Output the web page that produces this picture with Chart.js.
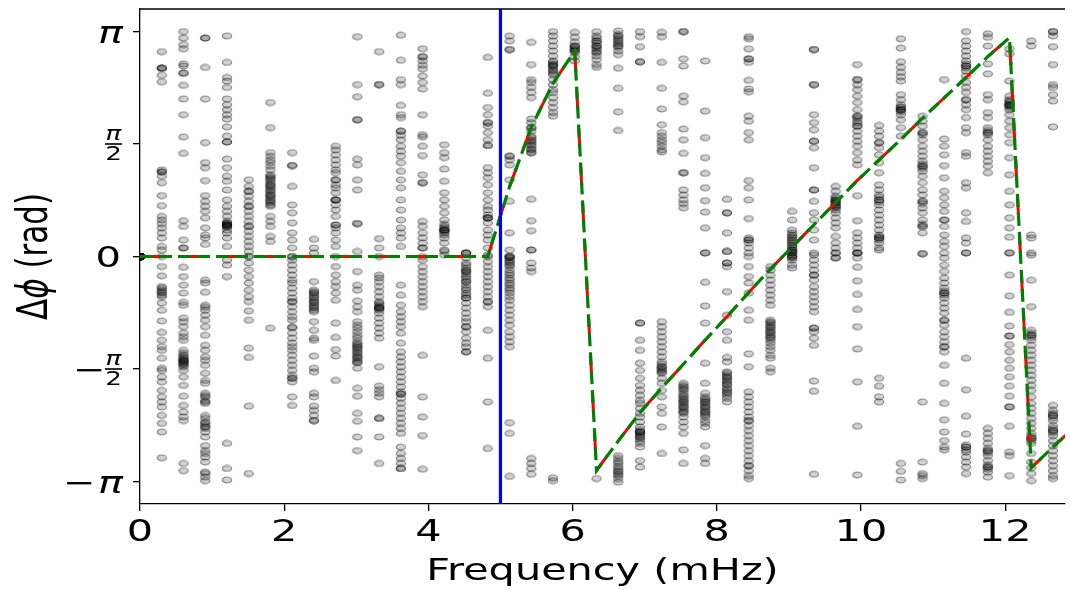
<!DOCTYPE html>
<html>
<head>
<meta charset="utf-8">
<script src="https://cdn.jsdelivr.net/npm/chart.js@4.4.1/dist/chart.umd.min.js"></script>
<style>
  html, body { margin: 0; padding: 0; background: #fff; }
  #wrap { width: 1070px; height: 590px; }
</style>
</head>
<body>
<div id="wrap"><canvas id="graph" width="1070" height="590"></canvas></div>
<script>
// column frequencies (mHz)
const freqs = [0, 0.302, 0.603, 0.905, 1.206, 1.508, 1.809, 2.111, 2.412, 2.714, 3.015,
  3.317, 3.618, 3.920, 4.221, 4.523, 4.824, 5.126, 5.427, 5.729, 6.030,
  6.332, 6.633, 6.935, 7.236, 7.538, 7.839, 8.141, 8.442, 8.744, 9.045,
  9.347, 9.648, 9.950, 10.251, 10.553, 10.854, 11.156, 11.457, 11.759, 12.060,
  12.362, 12.663, 12.965];

// fitted phase (rad), one value per frequency above
const fitPhase = [0, 0, 0, 0, 0, 0, 0, 0, 0, 0, 0,
  0, 0, 0, 0, 0, 0, 0.976, 1.803, 2.419, 2.871,
  -2.987, -2.576, -2.179, -1.835, -1.503, -1.167, -0.840, -0.504, -0.176, 0.133,
  0.443, 0.752, 1.062, 1.347, 1.636, 1.931, 2.217, 2.499, 2.791, 3.056,
  -2.95, -2.66, -2.38];

const markerFreq = 5.0;

// measured phase differences, one list per frequency column
const p00 = [0, 0, 0, 0, 0, 0, 0, 0, 0, 0, 0, 0, 0, 0, 0];
const p01 = [2.86, 2.63, 2.63, 2.63, 2.53, 2.44, 1.21, 1.18, 1.18, 1.12, 1.03, 0.85, 0.71, 0.56, 0.51, 0.46, 0.40, 0.33, 0.26, 0.14, 0.09, 0,
  -0.14, -0.27, -0.42, -0.44, -0.47, -0.49, -0.51, -0.54, -0.56, -0.65, -0.75, -0.90, -1.06, -1.17, -1.26, -1.31, -1.42, -1.56, -1.59,
  -1.68, -1.75, -1.87, -1.96, -2.03, -2.10, -2.22, -2.33, -2.45, -2.81];
const p02 = [3.14, 3.05, 2.96, 2.90, 2.69, 2.66, 2.56, 2.56, 2.39, 2.20, 1.98, 1.67, 1.44, 0.50, 0.42, 0.23, 0.12, 0.12,
  -0.15, -0.28, -0.40, -0.51, -0.64, -0.68, -0.86, -0.91, -0.98, -1.07, -1.12, -1.17, -1.31, -1.35, -1.40, -1.42, -1.45, -1.47,
  -1.49, -1.52, -1.54, -1.59, -1.38, -1.44, -1.50, -1.46, -1.68, -1.80, -1.95, -2.08, -2.17, -2.24, -2.29, -2.89, -2.99];
const p03 = [3.05, 3.05, 2.64, 2.20, 1.59, 1.31, 1.24, 1.06, 0.85, 0.77, 0.70, 0.63, 0.54, 0.40, 0.30, 0.26, 0.17,
  -0.33, -0.37, -0.50, -0.68, -0.71, -0.75, -0.82, -0.89, -0.98, -1.10, -1.24, -1.31, -1.40, -1.45, -1.52, -1.63, -1.73, -1.77,
  -1.91, -1.94, -1.96, -2.01, -2.03, -2.05, -2.22, -2.26, -2.31, -2.33, -2.36, -2.38, -2.40, -2.45, -2.52, -2.64, -2.71, -2.75,
  -2.80, -2.87, -3.01, -3.03, -3.08, -3.13];
const p04 = [3.08, 2.71, 2.50, 2.45, 2.36, 2.20, 2.12, 2.05, 1.98, 1.92, 1.81, 1.68, 1.60, 1.60, 1.36, 1.24, 1.12, 1.05, 0.93,
  0.79, 0.70, 0.63, 0.56, 0.49, 0.47, 0.46, 0.45, 0.44, 0.44, 0.43, 0.42, 0.41, 0.37, 0.33, 0.26, 0.14,
  -0.05, -0.12, -0.28, -2.61, -2.96, -3.12];
const p05 = [1.07, 0.98, 0.91, 0.91, 0.84, 0.77, 0.70, 0.70, 0.63, 0.56, 0.49, 0.42, 0.42, 0.35, 0.28, 0.21, 0.14, 0.07, 0, 0,
  -0.09, -0.19, -0.28, -0.37, -0.47, -0.56, -0.63, -0.76, -0.89, -1.28, -1.41, -2.09, -3.03];
const p06 = [2.15, 1.80, 1.45, 1.40, 1.35, 1.31, 1.26, 1.21, 1.14, 1.12, 1.10, 1.08, 1.05, 1.02, 1.00, 0.98, 0.96, 0.93, 0.91,
  0.88, 0.86, 0.84, 0.82, 0.79, 0.77, 0.75, 0.72, 0.70, 0.56, 0.49, 0.42, 0.28, 0.21, -1.00];
const p07 = [1.45, 1.27, 1.27, 0.98, 0.72, 0.61, 0.47, 0.33, 0.23, 0.12, 0, 0, -0.05, -0.12, -0.19, -0.26, -0.33, -0.37, -0.44,
  -0.51, -0.58, -0.63, -0.63, -0.70, -0.77, -0.84, -0.89, -0.99, -0.99, -1.07, -1.14, -1.21, -1.26, -1.31, -1.38, -1.45, -1.52,
  -1.59, -1.66, -1.70, -1.70, -1.75, -1.96, -2.08];
const p08 = [0.24, 0.12, 0.05, -0.35, -0.47, -0.49, -0.51, -0.53, -0.56, -0.58, -0.61, -0.63, -0.65, -0.68, -0.70, -0.72, -0.75,
  -0.77, -0.91, -1.03, -1.14, -1.17, -1.39, -1.56, -1.61, -1.91, -1.96, -2.09, -2.15, -2.22, -2.29, -2.29];
const p09 = [1.54, 1.49, 1.42, 1.35, 1.28, 1.21, 1.17, 1.07, 1.07, 1.00, 0.96, 0.89, 0.79, 0.79, 0.79, 0.72, 0.65, 0.56, 0.44,
  0.44, 0.40, 0.33, 0.23, 0.14, 0, -0.14, -0.26, -0.35, -0.42, -0.51, -0.61, -0.93, -1.13, -1.30, -1.39, -1.73];
const p10 = [3.07, 2.40, 2.23, 1.91, 1.91, 1.36, 1.28, 1.07, 0.93, 0.46, 0.46, 0.07, -0.21, -0.40, -0.47, -0.62, -0.70, -0.77,
  -0.91, -0.96, -1.00, -1.05, -1.10, -1.14, -1.19, -1.22, -1.24, -1.26, -1.28, -1.30, -1.33, -1.35, -1.38, -1.40, -1.42, -1.45,
  -1.48, -1.48, -1.56, -1.84, -1.95, -2.19, -2.30, -2.52, -2.71];
const p11 = [2.86, 2.40, 2.40, 0.25, 0.12, 0, -0.26, -0.30, -0.35, -0.42, -0.49, -0.56, -0.63, -0.65, -0.68, -0.70, -0.72, -0.72,
  -0.72, -0.75, -0.79, -0.86, -0.93, -1.00, -1.07, -1.14, -1.54, -1.81, -1.86, -1.91, -1.96, -2.26, -2.26, -2.52, -2.89];
const p12 = [3.09, 2.74, 2.47, 2.40, 2.11, 1.98, 1.94, 1.75, 1.75, 1.69, 1.63, 1.54, 1.47, 1.40, 1.31, 1.19, 1.07, 0.96, 0.79,
  0.65, 0.51, 0.40, 0.33, 0.26, 0.14, -0.40, -0.54, -0.68, -0.77, -0.84, -0.91, -0.98, -1.07, -1.21, -1.33, -1.40, -1.47,
  -1.54, -1.61, -1.68, -1.75, -1.82, -1.89, -1.92, -1.92, -1.98, -2.05, -2.12, -2.19, -2.26, -2.33, -2.40, -2.47, -2.66,
  -2.75, -2.82, -2.89, -2.96, -2.96];
const p13 = [2.90, 2.79, 2.79, 2.73, 2.67, 2.62, 2.52, 2.43, 2.34, 1.98, 1.70, 1.67, 1.54, 1.41, 1.14, 1.03, 1.03, 0.49, 0.42,
  0.33, 0.26, 0.19, 0.12, 0.12, 0, -0.05, -0.14, -0.21, -0.28, -0.35, -0.42, -0.49, -0.56, -0.63, -0.70, -1.38, -1.96,
  -2.24, -2.50, -2.97];
const p14 = [1.56, 1.45, 1.38, 1.22, 1.05, 0.89, 0.79, 0.70, 0.61, 0.51, 0.45, 0.42, 0.40, 0.37, 0.37, 0.37, 0.35, 0.33, 0.30,
  0.26, 0.19, 0.09, 0.07, 0.02];
const p15 = [0.05, 0.05, 0.05, -0.02, -0.09, -0.12, -0.16, -0.19, -0.21, -0.21, -0.25, -0.28, -0.31, -0.35, -0.35, -0.40, -0.44,
  -0.47, -0.51, -0.54, -0.58, -0.58, -0.65, -0.72, -0.79, -0.86, -0.91, -0.98, -0.98, -1.05, -1.14, -1.21, -1.26, -1.33, -1.33];
const p16 = [2.78, 2.28, 2.08, 1.98, 1.87, 1.87, 1.82, 1.73, 1.63, 1.55, 1.55, 1.24, 1.17, 1.10, 1.00, 0.89, 0.79, 0.70, 0.65,
  0.58, 0.54, 0.54, 0.54, 0.47, 0.37, 0.30, 0.23, 0.12, 0.02, 0, -0.07, -0.14, -0.21, -0.28, -0.35, -0.42, -0.49, -0.56,
  -0.63, -0.63, -0.70, -1.03, -1.42, -2.03, -2.68];
const p17 = [3.08, 3.01, 2.89, 2.89, 1.40, 1.40, 1.35, 1.28, 1.07, 0.77, 0.33, 0.09, 0, 0, 0, -0.02, -0.05, -0.07, -0.09, -0.12,
  -0.14, -0.19, -0.23, -0.26, -0.30, -0.33, -0.37, -0.40, -0.44, -0.47, -0.51, -0.56, -0.61, -0.68, -0.75, -0.82, -0.89,
  -0.96, -1.05, -1.12, -1.19, -1.26, -2.32, -2.47, -3.07];
const p18 = [2.99, 2.68, 2.47, 2.43, 2.36, 2.29, 2.22, 1.92, 1.87, 1.80, 1.80, 1.75, 1.68, 1.66, 1.63, 1.61, 1.59, 1.56, 1.54,
  1.50, 1.49, 1.45, 1.45, 0.80, 0.50, 0.36, 0.09, 0.09, -0.09, -0.16, -0.21, -2.82, -2.89, -2.96, -3.04];
const p19 = [3.14, 3.08, 3.01, 2.94, 2.87, 2.80, 2.73, 2.71, 2.68, 2.68, 2.66, 2.64, 2.61, 2.59, 2.56, 2.54, 2.47, 2.40, 2.33,
  2.29, 2.22, 2.15, 2.08, 2.01, 1.96, -3.09, -3.13];
const p20 = [3.13, 3.06, 2.99, 2.94, 2.94, 2.92, 2.89, 2.89, 2.87, 2.85, 2.79, 2.73];
const p21 = [3.14, 3.08, 3.05, 3.01, 3.01, 2.98, 2.94, 2.94, 2.91, 2.89, 2.85, 2.85, 2.80, 2.75, 2.68, 2.64, -3.10];
const p22 = [3.15, 3.10, 3.08, 3.06, 3.03, 3.01, 2.98, 2.96, 2.94, 2.92, 2.87, 2.82, 2.63, 2.35, 2.02, 1.76,
  -2.78, -2.82, -2.86, -2.89, -2.93, -2.96, -2.99, -3.01, -3.04, -3.06, -3.10, -3.15];
const p23 = [3.14, 3.07, 2.93, 2.72, 2.72, -0.93, -0.93, -1.17, -1.31, -1.49, -1.59, -1.70, -1.80, -1.87, -1.94, -2.01, -2.05,
  -2.12, -2.19, -2.24, -2.31, -2.38, -2.42, -2.45, -2.45, -2.45, -2.48, -2.50, -2.52, -2.54, -2.57, -2.61, -2.66, -2.85, -2.94];
const p24 = [3.13, 3.07, 2.71, 2.35, 2.06, 1.84, 1.73, 1.68, 1.63, 1.59, 1.54, 1.49, 1.46, -0.91, -0.98, -1.05, -1.12, -1.19,
  -1.26, -1.33, -1.40, -1.47, -1.50, -1.54, -1.54, -1.57, -1.59, -1.61, -1.63, -1.70, -1.77, -1.87, -1.96, -2.10, -2.19,
  -2.38, -2.75];
const p25 = [3.14, 3.14, 2.76, 2.66, 2.24, 2.16, 1.78, 1.63, 1.44, 1.17, 1.17, 0.93, 0.86, 0.79, 0.74, 0.68, -1.77, -1.80,
  -1.82, -1.85, -1.87, -1.91, -1.94, -1.96, -1.99, -2.01, -2.03, -2.05, -2.08, -2.10, -2.12, -2.15, -2.17, -2.19, -2.24,
  -2.31, -2.38, -2.47, -2.70, -2.89];
const p26 = [2.73, 2.03, 1.66, 1.38, 1.16, 0.96, 0.78, 0.62, 0.40, 0.05, 0.05, -0.36, -0.69, -0.93, -1.49, -1.77, -1.91, -1.96,
  -1.99, -2.01, -2.03, -2.05, -2.08, -2.10, -2.12, -2.15, -2.17, -2.19, -2.21, -2.24, -2.29, -2.33, -2.38, -2.64, -2.82, -2.89];
const p27 = [0.80, 0.61, 0.61, 0.33, 0.07, 0.07, -0.09, -0.09, -0.14, -0.49, -0.82, -1.05, -1.17, -1.41, -1.47, -1.61, -1.63,
  -1.66, -1.68, -1.70, -1.73, -1.75, -1.78, -1.80, -1.84, -1.86, -1.89, -1.91, -1.94, -1.98, -2.03];
const p28 = [3.07, 3.04, 2.90, 2.76, 2.76, 2.71, 2.46, 2.34, 2.30, 1.96, 1.89, 1.73, 1.63, 1.06, 0.96, 0.79, 0.53, 0.26, 0.23,
  0.23, 0.19, 0.12, 0.05, 0, -0.14, -0.28, -0.37, -0.51, -0.75, -0.89, -1.36, -1.54, -1.89, -1.96, -2.03, -2.10, -2.17,
  -2.24, -2.29, -2.29, -2.36, -2.43, -2.50, -2.57, -2.64, -2.71, -2.78, -2.85, -2.92, -2.92, -2.99, -3.06, -3.10];
const p29 = [-0.14, -0.19, -0.26, -0.33, -0.40, -0.47, -0.54, -0.61, -0.68, -0.89, -0.91, -0.93, -0.96, -0.98, -1.00, -1.03,
  -1.05, -1.07, -1.10, -1.12, -1.14, -1.17, -1.21, -1.26, -1.31, -1.38, -1.42, -1.56, -1.61];
const p30 = [0.63, 0.51, 0.37, 0.33, 0.30, 0.28, 0.26, 0.23, 0.21, 0.19, 0.16, 0.14, 0.12, 0.09, 0.09, 0.07, 0.05, 0.05, 0.02,
  0, 0, -0.02, -0.05, -0.12, -0.16];
const p31 = [2.89, 2.89, 2.40, 2.40, 1.98, 1.87, 1.77, 1.61, 1.61, 1.52, 1.24, 0.93, 0.93, 0.77, 0.61, 0.51, 0.37, 0.23, 0.05,
  0.02, -0.05, -0.12, -0.19, -0.26, -0.26, -0.33, -0.42, -0.49, -0.56, -0.63, -0.70, -0.77, -1.00, -1.00, -1.05, -1.14,
  -1.24, -1.74, -1.88, -3.04];
const p32 = [0.98, 0.91, 0.84, 0.82, 0.79, 0.79, 0.77, 0.75, 0.75, 0.72, 0.70, 0.70, 0.68, 0.65, 0.61, 0.54, 0.47, 0.40, 0.28,
  0.19, 0.12, 0.05, 0.05, -0.02, -0.02];
const p33 = [2.68, 2.47, 2.47, 2.40, 2.33, 2.24, 2.15, 2.05, 1.96, 1.96, 1.93, 1.89, 1.86, 1.82, 1.82, 1.75, 1.68, 1.61, 1.54,
  1.45, 1.35, 1.28, 0.85, 0.50, 0.33, 0.26, 0.19, 0.12, 0.05, 0.05, 0.05, -0.02, -0.15, -0.34, -0.53, -0.74, -0.98, -1.29,
  -1.75, -2.37, -3.05];
const p34 = [1.83, 1.75, 1.68, 1.59, 1.59, 1.52, 1.42, 1.31, 1.17, 1.00, 0.93, 0.86, 0.83, 0.79, 0.79, 0.76, 0.72, 0.65, 0.58,
  0.51, 0.44, 0.37, 0.30, 0.28, 0.26, 0.26, 0.23, 0.19, 0.12, 0.09, -1.70, -1.81, -1.96, -2.03];
const p35 = [3.04, 2.91, 2.72, 2.64, 2.57, 2.51, 2.45, 2.26, 2.19, 2.12, 2.09, 2.08, 2.05, 2.05, 2.05, 2.02, 1.98, 1.91, 1.80,
  1.68, -2.89, -3.00, -3.12];
const p36 = [1.96, 1.89, 1.82, 1.73, 1.73, 1.70, 1.63, 1.54, 1.47, 1.40, 1.33, 1.29, 1.26, 1.26, 1.23, 1.19, 1.12, 1.03, 0.93,
  0.86, 0.77, 0.77, 0.74, 0.68, 0.61, 0.51, 0.45, 0.42, 0.42, 0.33, 0.04, 0.04, -2.03, -2.87, -3.03, -3.06, -3.10];
const p37 = [2.47, 1.64, 1.54, 1.42, 1.27, 1.10, 0.91, 0.82, 0.72, 0.63, 0.51, 0.51, 0.42, 0.30, 0.21, 0.14, 0.05, -0.02, -0.12,
  -0.21, -0.30, -0.37, -0.44, -0.48, -0.51, -0.51, -0.54, -0.58, -0.65, -0.72, -0.79, -0.89, -0.89, -0.96, -1.05, -1.12,
  -1.19, -1.26, -1.26, -1.33, -1.52, -1.77, -2.05, -2.28, -2.45, -2.57, -2.66, -2.70];
const p38 = [3.14, 3.01, 2.94, 2.87, 2.80, 2.73, 2.69, 2.66, 2.66, 2.63, 2.59, 2.52, 2.43, 2.36, 2.29, 2.19, 2.19, 2.12, 2.05,
  1.94, 1.80, 1.73, 1.45, 1.40, 1.03, 0.96, 0.61, 0.49, 0.26, 0.19, 0.05, 0.05, -1.42, -1.86, -2.23, -2.48, -2.63, -2.66,
  -2.66, -2.70, -2.73, -2.80, -2.87, -2.94, -3.03];
const p39 = [3.11, 3.06, 2.94, 2.69, 2.55, 2.26, 2.19, 2.01, 1.94, 1.80, 1.76, 1.73, 1.73, 1.70, 1.63, 1.54, 1.47, 1.40, 1.33,
  1.26, 1.17, -2.40, -2.47, -2.54, -2.61, -2.68, -2.71, -2.71, -2.74, -2.78, -2.85, -2.91, -2.94, -2.94, -2.97, -3.01, -3.08];
const p40 = [2.90, 2.83, 2.45, 2.24, 2.19, 2.17, 2.15, 2.12, 2.12, 2.12, 2.10, 2.08, 2.05, 1.98, 1.89, 1.80, 1.70, 1.59, 1.38,
  1.14, 0.91, 0.72, 0.54, 0.40, 0.27, 0.05, 0.05, -0.26, -0.55, -0.78, -0.97, -1.11, -1.11, -1.23, -1.33, -1.45, -1.56,
  -1.68, -1.81, -1.95, -2.10, -2.10, -2.37, -2.73, -2.78, -3.06];
const p41 = [3.01, 2.94, 0.30, 0.26, 0.05, 0.02, -0.33, -0.70, -1.03, -1.07, -1.10, -1.10, -1.13, -1.17, -1.24, -1.31, -1.38,
  -1.45, -1.52, -1.59, -1.66, -1.73, -1.80, -1.87, -1.96, -2.05, -2.12, -2.19, -2.26, -2.33, -2.40, -2.47, -2.51, -2.54,
  -2.54, -2.57, -2.61, -2.75, -2.87, -2.95, -3.03, -3.13];
const p42 = [3.14, 3.14, 3.08, 2.93, 2.68, 2.40, 2.36, 2.26, 2.17, 1.81, -2.08, -2.15, -2.19, -2.22, -2.22, -2.25, -2.29, -2.36,
  -2.40, -2.43, -2.43, -2.46, -2.50, -2.57, -2.64, -2.71, -2.78, -2.85, -2.92, -2.99, -3.06, -3.10];

const phaseColumns = [p00, p01, p02, p03, p04, p05, p06, p07, p08, p09, p10, p11, p12, p13, p14, p15, p16, p17, p18, p19,
  p20, p21, p22, p23, p24, p25, p26, p27, p28, p29, p30, p31, p32, p33, p34, p35, p36, p37, p38, p39, p40, p41, p42];

// axis ticks
const xTickValues = [0, 2, 4, 6, 8, 10, 12];
const xTickLabels = ['0', '2', '4', '6', '8', '10', '12'];
const yTickValues = [-Math.PI, -Math.PI / 2, 0, Math.PI / 2, Math.PI];
const yTickLabels = ['−π', '−π/2', '0', 'π/2', 'π'];

const yLimit = 1.1 * Math.PI;
const xMax = 12.83;
const STRETCH = 1.38;   // picture is stretched sideways, so is its text
const FONT = '"DejaVu Sans", sans-serif';

const scatterPts = [];
phaseColumns.forEach((col, i) => col.forEach(v => scatterPts.push({ x: freqs[i], y: v })));
const fitPts = freqs.map((f, i) => ({ x: f, y: fitPhase[i] }));

function ringMarker() {
  const c = document.createElement('canvas');
  c.width = 12; c.height = 8;
  const g = c.getContext('2d');
  g.beginPath();
  g.ellipse(6, 4, 4.6, 3.0, 0, 0, Math.PI * 2);
  g.fillStyle = 'rgba(0,0,0,0.18)';
  g.fill();
  g.lineWidth = 1.2;
  g.strokeStyle = 'rgba(0,0,0,0.42)';
  g.stroke();
  return c;
}

function stretchedText(ctx, text, x, y, font, align) {
  ctx.save();
  ctx.translate(x, y);
  ctx.scale(STRETCH, 1);
  ctx.font = font;
  ctx.textAlign = align;
  ctx.textBaseline = 'alphabetic';
  ctx.fillStyle = '#000';
  ctx.fillText(text, 0, 0);
  ctx.restore();
}

function drawFraction(ctx, cx, y) {
  stretchedText(ctx, 'π', cx, y - 4, 'italic 19px ' + FONT, 'center');
  ctx.fillStyle = '#000';
  ctx.fillRect(cx - 8.5, y - 0.8, 17, 1.6);
  stretchedText(ctx, '2', cx, y + 16, '19px ' + FONT, 'center');
}

const axisText = {
  id: 'axisText',
  afterDraw(chart) {
    const ctx = chart.ctx;
    const xs = chart.scales.x, ys = chart.scales.y;
    const area = chart.chartArea;

    // top spine
    ctx.save();
    ctx.strokeStyle = '#000';
    ctx.lineWidth = 1.3;
    ctx.beginPath();
    ctx.moveTo(area.left, area.top);
    ctx.lineTo(area.right, area.top);
    ctx.stroke();
    ctx.restore();

    xTickValues.forEach((v, i) => {
      stretchedText(ctx, xTickLabels[i], xs.getPixelForValue(v), 541, '30px ' + FONT, 'center');
    });

    yTickValues.forEach((v, i) => {
      const y = ys.getPixelForValue(v);
      const lab = yTickLabels[i];
      const neg = lab.charAt(0) === '−';
      const body = neg ? lab.slice(1) : lab;
      if (body === 'π/2') {
        if (neg) stretchedText(ctx, '−', 73, y + 10, '28px ' + FONT, 'left');
        drawFraction(ctx, 113.5, y);
      } else if (body === 'π') {
        if (neg) stretchedText(ctx, '−', 63, y + 10, '28px ' + FONT, 'left');
        stretchedText(ctx, 'π', 123, y + 11, 'italic 30px ' + FONT, 'right');
      } else {
        stretchedText(ctx, body, 121, y + 10, '29px ' + FONT, 'right');
      }
    });

    stretchedText(ctx, 'Frequency (mHz)', (area.left + area.right) / 2, 580, '30px ' + FONT, 'center');

    // y title: Δϕ (rad), rotated
    ctx.save();
    ctx.translate(47, (area.top + area.bottom) / 2);
    ctx.scale(STRETCH, 1);
    ctx.rotate(-Math.PI / 2);
    ctx.fillStyle = '#000';
    ctx.textBaseline = 'alphabetic';
    const fUp = '31px ' + FONT, fIt = 'italic 31px ' + FONT;
    ctx.font = fUp; const wD = ctx.measureText('Δ').width; const wR = ctx.measureText(' (rad)').width;
    ctx.font = fIt; const wP = ctx.measureText('ϕ').width;
    let x0 = -(wD + wP + wR) / 2;
    ctx.font = fUp; ctx.textAlign = 'left'; ctx.fillText('Δ', x0, 0); x0 += wD;
    ctx.font = fIt; ctx.fillText('ϕ', x0, 0); x0 += wP;
    ctx.font = fUp; ctx.fillText(' (rad)', x0, 0);
    ctx.restore();
  }
};

const ctx = document.getElementById('graph').getContext('2d');
const chart = new Chart(ctx, {
  type: 'scatter',
  data: {
    datasets: [
      {
        label: 'vline',
        type: 'line',
        data: [{ x: markerFreq, y: -yLimit }, { x: markerFreq, y: yLimit }],
        borderColor: '#0000ff',
        borderWidth: 3.2,
        pointRadius: 0,
        order: 0
      },
      {
        label: 'fit (dashed)',
        type: 'line',
        data: fitPts,
        borderColor: '#008000',
        borderWidth: 3.2,
        borderDash: [13, 6],
        pointRadius: 0,
        tension: 0,
        order: 1
      },
      {
        label: 'fit',
        type: 'line',
        data: fitPts,
        borderColor: '#ff0000',
        borderWidth: 3,
        borderDash: [19, 19],
        borderDashOffset: 34,
        pointRadius: 0,
        tension: 0,
        order: 2
      },
      {
        label: 'phase',
        data: scatterPts,
        pointStyle: ringMarker(),
        pointRadius: 4,
        order: 3
      }
    ]
  },
  options: {
    responsive: false,
    animation: false,
    devicePixelRatio: 1,
    layout: { padding: { top: 9, right: 0, left: 0, bottom: 0 } },
    plugins: { legend: { display: false }, tooltip: { enabled: false } },
    scales: {
      x: {
        type: 'linear',
        min: 0,
        max: xMax,
        afterBuildTicks: s => { s.ticks = xTickValues.map(v => ({ value: v })); },
        afterFit: s => { s.height = 86; },
        ticks: { display: false },
        grid: { display: true, drawOnChartArea: false, drawTicks: true, tickLength: 7, color: '#000', lineWidth: 1.3 },
        border: { display: true, color: '#000', width: 1.3 }
      },
      y: {
        type: 'linear',
        min: -yLimit,
        max: yLimit,
        afterBuildTicks: s => { s.ticks = yTickValues.map(v => ({ value: v })); },
        afterFit: s => { s.width = 140; },
        ticks: { display: false },
        grid: { display: true, drawOnChartArea: false, drawTicks: true, tickLength: 7, color: '#000', lineWidth: 1.3 },
        border: { display: true, color: '#000', width: 1.3 }
      }
    }
  },
  plugins: [axisText]
});
</script>
</body>
</html>
